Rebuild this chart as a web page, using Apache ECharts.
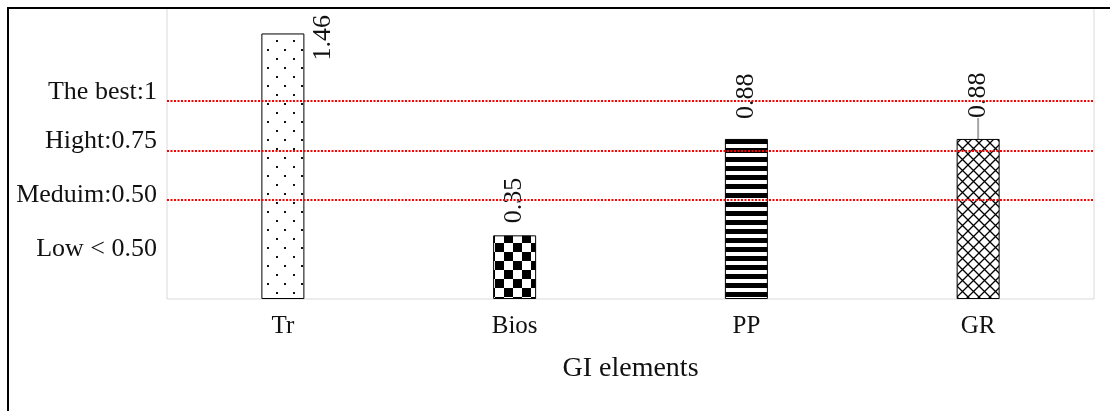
<!DOCTYPE html>
<html>
<head>
<meta charset="utf-8">
<script src="https://cdn.jsdelivr.net/npm/echarts@6/dist/echarts.min.js"></script>
<style>
  html, body { margin: 0; padding: 0; background: #fff; }
  #chart { width: 1110px; height: 411px; }
</style>
</head>
<body>
<div id="chart"></div>
<script>
// GI element scores
const categories = ['Tr', 'Bios', 'PP', 'GR'];
const scores = [1.46, 0.35, 0.88, 0.88];

// Rating thresholds (dotted reference lines) and the level names on the left
const levelLines = [1, 0.75, 0.5];
const levelTicks = [0.25, 0.5, 0.75, 1];
const levelNames = ['Low < 0.50', 'Meduim:0.50', 'Hight:0.75', 'The best:1'];

const SERIF = '"Liberation Serif", "Times New Roman", serif';

// Fill patterns for each bar
function makeTile(w, h, draw) {
  const c = document.createElement('canvas');
  c.width = w; c.height = h;
  const ctx = c.getContext('2d');
  ctx.fillStyle = '#fff';
  ctx.fillRect(0, 0, w, h);
  draw(ctx);
  return { image: c, repeat: 'repeat' };
}
const dotFill = makeTile(17, 18, ctx => {
  ctx.fillStyle = '#111';
  ctx.fillRect(4, 4, 2, 2);
  ctx.fillRect(12, 13, 2, 2);
});
const checkFill = makeTile(18, 18, ctx => {
  ctx.fillStyle = '#000';
  ctx.fillRect(0, 0, 9, 9);
  ctx.fillRect(9, 9, 9, 9);
});
const stripeFill = makeTile(8, 9, ctx => {
  ctx.fillStyle = '#000';
  ctx.fillRect(0, 4, 8, 5);
});
const latticeFill = makeTile(11, 11, ctx => {
  ctx.strokeStyle = '#000';
  ctx.lineWidth = 1.3;
  ctx.beginPath();
  ctx.moveTo(0, 0); ctx.lineTo(11, 11);
  ctx.moveTo(11, 0); ctx.lineTo(0, 11);
  ctx.stroke();
});
const fills = [dotFill, checkFill, stripeFill, latticeFill];

// Label placement per bar
const labelPlacement = [
  { position: [62, 27] },
  { position: 'top', distance: 12 },
  { position: 'top', distance: 20 },
  { position: 'top', distance: 21 }
];

const barData = scores.map((v, i) => ({
  value: v,
  itemStyle: { color: fills[i] },
  label: labelPlacement[i],
  labelLine: i === 3 ? { show: true, lineStyle: { color: '#a6a6a6', width: 2 } } : undefined
}));

const chart = echarts.init(document.getElementById('chart'), null, { renderer: 'canvas' });

chart.setOption({
  animation: false,
  backgroundColor: '#fff',
  grid: {
    left: 167, right: 16, top: 8, bottom: 112,
    show: true, borderColor: '#d9d9d9', borderWidth: 1, backgroundColor: 'transparent'
  },
  graphic: [{
    type: 'rect',
    shape: { x: 8, y: 8, width: 1200, height: 500 },
    style: { fill: 'none', stroke: '#000', lineWidth: 2 },
    z: 100, silent: true
  }],
  xAxis: {
    type: 'category',
    data: categories,
    axisLine: { show: false },
    axisTick: { show: false },
    axisLabel: { color: '#111', fontFamily: SERIF, fontSize: 25, margin: 15 },
    name: 'GI elements',
    nameLocation: 'middle',
    nameGap: 70,
    nameTextStyle: { color: '#111', fontFamily: SERIF, fontSize: 28, verticalAlign: 'middle' }
  },
  yAxis: [{
    type: 'value', min: 0, max: 1.6,
    show: false,
    splitLine: { show: false }
  }, {
    type: 'value', min: 0, max: 1.47, interval: 0.25,
    position: 'left',
    axisLine: { show: false },
    axisTick: { show: false },
    splitLine: { show: false },
    axisLabel: {
      margin: 10,
      color: '#111',
      fontFamily: SERIF,
      fontSize: 26,
      showMaxLabel: false,
      formatter: v => {
        const i = levelTicks.findIndex(t => Math.abs(t - v) < 1e-6);
        if (i < 0) return '';
        const style = i === 0 ? 'low' : (i === 1 ? 'mid' : 'up');
        return '{' + style + '|' + levelNames[i] + '}';
      },
      rich: {
        low: { fontFamily: SERIF, fontSize: 26, color: '#111' },
        mid: { fontFamily: SERIF, fontSize: 26, color: '#111', padding: [0, 0, 10, 0] },
        up: { fontFamily: SERIF, fontSize: 26, color: '#111', padding: [0, 0, 18, 0] }
      }
    }
  }],
  series: [{
    type: 'bar',
    yAxisIndex: 0,
    barWidth: 43,
    data: barData,
    itemStyle: { borderColor: '#000', borderWidth: 1 },
    label: {
      show: true,
      rotate: 90,
      align: 'left',
      verticalAlign: 'middle',
      color: '#111',
      fontFamily: SERIF,
      fontSize: 26,
      formatter: p => p.value.toFixed(2)
    }
  }, {
    type: 'line',
    yAxisIndex: 1,
    data: [],
    markLine: {
      silent: true,
      symbol: 'none',
      label: { show: false },
      lineStyle: { color: '#ff0000', type: [2, 1.5], width: 2 },
      data: levelLines.map(v => ({ yAxis: v }))
    },
    z: 5
  }]
});
</script>
</body>
</html>
